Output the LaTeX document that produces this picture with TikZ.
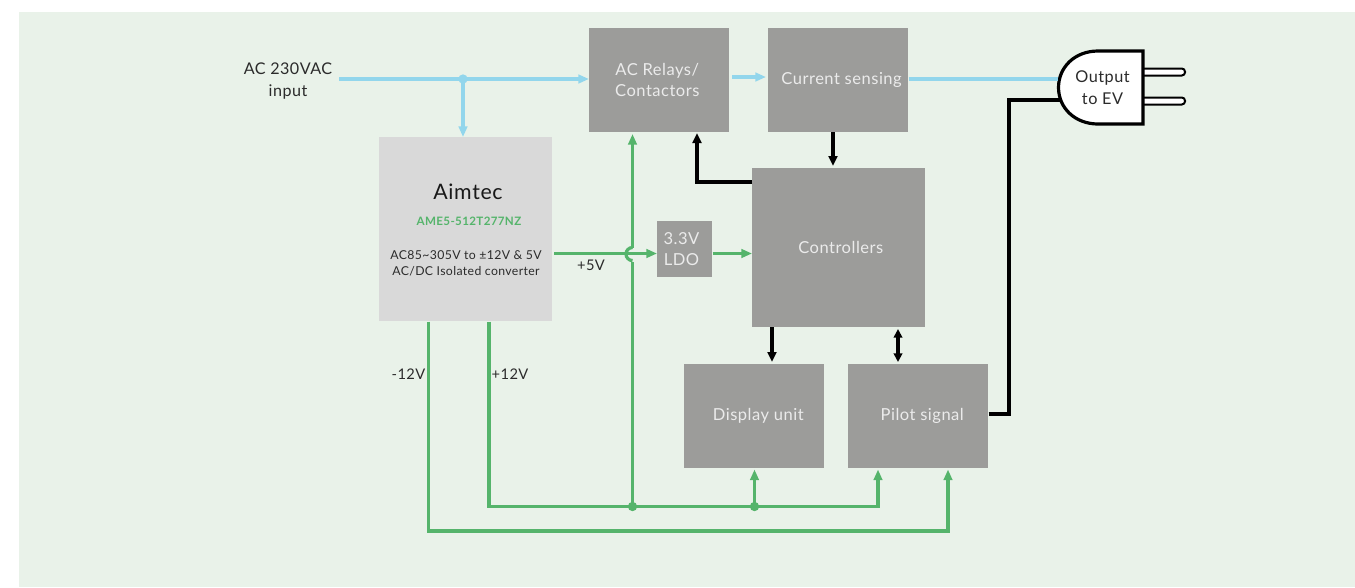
\documentclass[tikz,border=0pt]{standalone}
\usepackage{fontspec}
\setmainfont{Lato}[LetterSpace=3]
\usetikzlibrary{arrows.meta,calc}
\definecolor{bgc}{HTML}{E9F2E9}
\definecolor{boxc}{HTML}{9C9C9A}
\definecolor{lightbox}{HTML}{D9D9D9}
\definecolor{grn}{HTML}{55B46B}
\definecolor{blu}{HTML}{92D6EC}
\definecolor{txt}{HTML}{2B2B2B}
\tikzset{
  x=0.75pt,y=-0.75pt,
  gbox/.style={fill=boxc,text=white!92!black,inner sep=0pt,align=center,anchor=north west,font=\fontsize{12.4}{16}\selectfont},
  wide/.style={minimum width=105pt,minimum height=78pt},
  lbl/.style={text=txt,inner sep=0pt,align=center,font=\fontsize{12.1}{16}\selectfont},
  vlbl/.style={text=txt,inner sep=0pt,font=\fontsize{11}{14}\selectfont},
  bluew/.style={draw=blu,line width=2.4pt},
  bluea/.style={bluew,-{Triangle[length=8pt,width=6.4pt]}},
  grnw/.style={draw=grn,line width=2.4pt},
  grna/.style={grnw,-{Triangle[length=8pt,width=6.4pt]}},
  blkw/.style={draw=black,line width=2.9pt},
  blka/.style={blkw,-{Triangle[length=7.5pt,width=6.6pt]}},
  blkb/.style={blkw,{Triangle[length=6.5pt,width=6.4pt]}-{Triangle[length=6.5pt,width=6.4pt]}},
  jdot/.style={circle,inner sep=0pt,minimum size=7pt},
}
\begin{document}
\begin{tikzpicture}
\useasboundingbox (0,0) rectangle (1355,587);
\fill[bgc] (19,12) rectangle (1355,587);
% boxes
\node[gbox,wide] (relay) at (589,28) {\hspace*{-3pt}AC Relays/\\\hspace*{-3pt}Contactors};
\node[gbox,wide] (sense) at (768,28) {\hspace*{5pt}Current sensing};
\node[gbox,minimum width=129.75pt,minimum height=119.25pt] (ctrl) at (752,168) {\hspace*{3pt}Controllers};
\node[gbox,wide] (disp) at (684,364) {\hspace*{6pt}Display unit};
\node[gbox,wide] (pilot) at (848,364) {\hspace*{6pt}Pilot signal};
\node[gbox,minimum width=41.25pt,minimum height=42pt] (ldo) at (657,221) {\hspace*{-5pt}3.3V\\\hspace*{-5pt}LDO};
\node[fill=lightbox,minimum width=129.75pt,minimum height=138pt,anchor=north west,inner sep=0pt] (aim) at (379,137) {};
\node[inner sep=0pt,text=black!90] (aimt) at (468,192) {\fontsize{16}{19}\selectfont Aimtec};
\node[inner sep=0pt,text=grn] (aimp) at (469,221) {\fontsize{8.7}{10}\selectfont\bfseries AME5-512T277NZ};
\node[inner sep=0pt,text=txt,align=center,font=\fontsize{9.2}{12}\selectfont] (aimd) at (466,263) {AC85\char`~305V to ±12V \& 5V\\AC/DC Isolated converter};
% labels
\node[lbl] (acin) at (288,81) {AC 230VAC\\input};
\node[vlbl] (l5) at (591,265) {+5V};
\node[vlbl] (lm) at (408.5,374) {-12V};
\node[vlbl] (lp) at (510,374) {+12V};
% plug
\draw[black,line width=1.5pt,fill=white,rounded corners=2.4pt] (1140,68.5) -- (1185,68.5) -- (1185,75.5) -- (1140,75.5);
\draw[black,line width=1.5pt,fill=white,rounded corners=2.4pt] (1140,97.5) -- (1185,97.5) -- (1185,104.5) -- (1140,104.5);
\draw[black,line width=2.4pt,fill=white] (1143,51) -- (1143,124) -- (1098,124)
  .. controls (1075,124) and (1058.5,108) .. (1058.5,87.5)
  .. controls (1058.5,67) and (1075,51) .. (1098,51) -- cycle;
\node[lbl,font=\fontsize{12.2}{16}\selectfont] (ev) at (1102.5,87.5) {Output\\to EV};
% blue
\coordinate (acs) at (339,79);
\coordinate (acj) at (463,79);
\node[jdot,fill=blu] (acd) at (acj) {};
\draw[bluea] (acs) -- (relay.west |- acs);
\draw[bluea] (acj) -- (aim.north -| acj);
\draw[bluea] (732,77) -- (766,77);
\draw[bluew] (sense.east |- 0,79) -- (1058,79);
% black
\draw[blka] (833,132) -- (833,166);
\draw[blka] (ctrl.west |- 0,182) -| (697,133);
\draw[blka] (772,327) -- (772,362);
\draw[blkb] (898,329) -- (898,362);
\draw[blkw] (pilot.east |- 0,414) -- (1009,414) |- (1060,100);
% green
\coordinate (j1) at (632.5,506.5);
\coordinate (j2) at (754.5,506.5);
\draw[grna] (489,321.5) -- (489,506.5) -| (878,469.5);
\draw[grna] (428.5,321.5) -- (428.5,531) -| (948,469.5);
\draw[grna] (j2) -- (754.5,469.5);
\draw[grnw] (632.5,262) -- (j1);
\node[jdot,fill=grn] at (j1) {};
\node[jdot,fill=grn] at (j2) {};
\draw[grna] (632.5,248) -- (632.5,134);
% jump
\draw[grnw] (632.5,247.5) arc[start angle=90,end angle=270,radius=4.9pt];
\draw[grna] (554,253.5) -- (ldo.west |- 0,253.5);
\draw[grna] (ldo.east |- 0,253.5) -- (ctrl.west |- 0,253.5);
\end{tikzpicture}
\end{document}
